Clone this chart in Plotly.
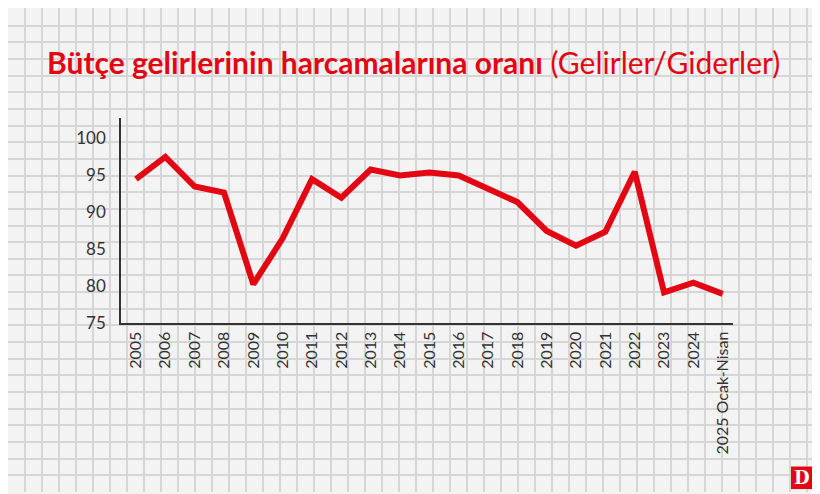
import plotly.graph_objects as go

years = ["2005","2006","2007","2008","2009","2010","2011","2012","2013","2014","2015",
         "2016","2017","2018","2019","2020","2021","2022","2023","2024","2025 Ocak-Nisan"]
ratio = [94.5,97.5,93.5,92.7,80.3,86.5,94.5,92.0,95.8,95.0,95.4,
         95.0,93.2,91.4,87.5,85.5,87.4,95.5,79.2,80.5,79.0]
yticks = [75,80,85,90,95,100]

W, H = 820, 494
fig = go.Figure()
fig.add_trace(go.Scatter(x=[0], y=[0], xaxis="x", yaxis="y", mode="markers",
                         marker=dict(opacity=0), hoverinfo="skip", showlegend=False))
fig.add_trace(go.Scatter(x=list(range(len(years))), y=ratio, mode="lines", xaxis="x2", yaxis="y2",
                         line=dict(color="#e30613", width=6), showlegend=False))

fig.update_layout(
    width=W, height=H, margin=dict(l=0, r=0, t=0, b=0),
    paper_bgcolor="#f3f3f3", plot_bgcolor="rgba(0,0,0,0)",
    xaxis=dict(domain=[0,1], range=[0,W], dtick=17, tick0=0, showgrid=True,
               gridcolor="#d6d6d6", gridwidth=1.5, showticklabels=False, zeroline=False),
    yaxis=dict(domain=[0,1], range=[0,H], dtick=17, tick0=0, showgrid=True,
               gridcolor="#d6d6d6", gridwidth=1.5, showticklabels=False, zeroline=False),
    xaxis2=dict(domain=[113/W, 725/W], range=[-0.51, 20.35], tickmode="array",
                tickvals=list(range(len(years))), ticktext=years, tickangle=-90,
                showgrid=False, zeroline=False, showline=True, linecolor="#333", linewidth=1.5,
                tickfont=dict(family="Lato", size=16, color="#333"), ticks="", anchor="y2"),
    yaxis2=dict(domain=[172/H, 382/H], range=[75, 102.8], tickmode="array", tickvals=yticks,
                showgrid=False, zeroline=False, showline=True, linecolor="#333", linewidth=1.5,
                tickfont=dict(family="Lato", size=17, color="#333"), ticks="", ticklabelstandoff=10,
                anchor="x2"),
    font=dict(family="Lato"),
)
fig.add_annotation(xref="paper", yref="paper", x=0.495, y=(H-55)/H, showarrow=False,
                   text="<b>Bütçe gelirlerinin harcamalarına oranı</b> (Gelirler/Giderler)",
                   font=dict(family="Lato", size=30, color="#e30613"), xanchor="center", yanchor="middle")
fig.add_shape(type="rect", xref="paper", yref="paper", x0=783/W, x1=805/W, y0=3/H, y1=26/H,
              fillcolor="#e30613", line=dict(width=0), layer="above")
fig.add_annotation(xref="paper", yref="paper", x=794/W, y=14.5/H, showarrow=False,
                   text="<b>D</b>", font=dict(family="DejaVu Serif", size=18, color="white"),
                   xanchor="center", yanchor="middle")
fig.write_html("out.html")
